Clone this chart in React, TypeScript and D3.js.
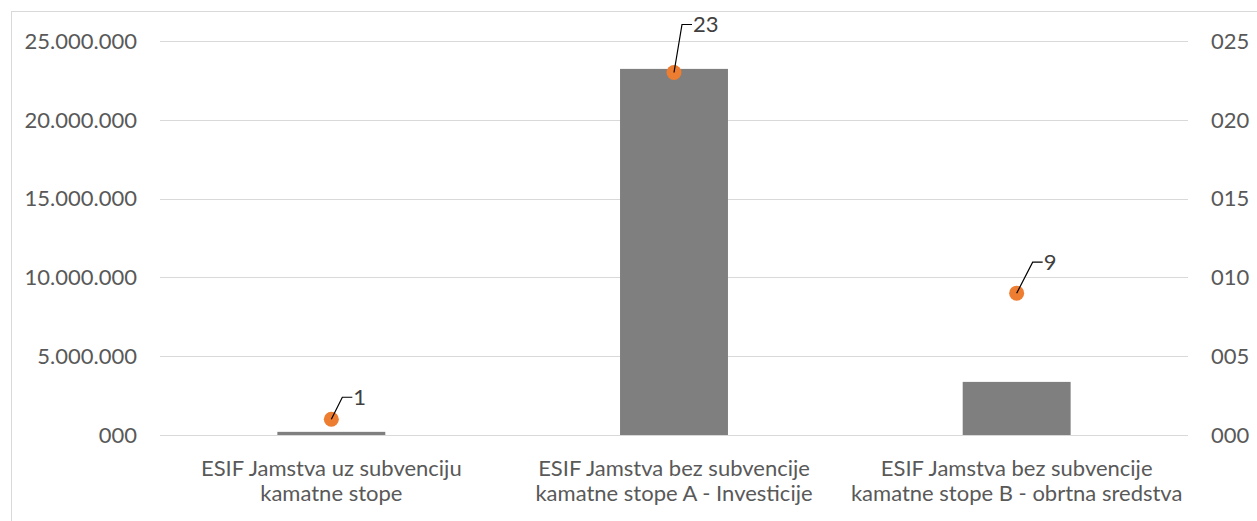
import React from "react";
import * as d3 from "d3";

const categories: string[][] = [
  ["ESIF Jamstva uz subvenciju", "kamatne stope"],
  ["ESIF Jamstva bez subvencije", "kamatne stope A - Investicije"],
  ["ESIF Jamstva bez subvencije", "kamatne stope B - obrtna sredstva"],
];
const amounts: number[] = [200000, 23230000, 3370000];
const counts: number[] = [1, 23, 9];
const leftTicks: number[] = [0, 5000000, 10000000, 15000000, 20000000, 25000000];
const rightTicks: number[] = [0, 5, 10, 15, 20, 25];

// layout of the manually placed data-label callouts (pixel offsets from the point)
const calloutOffsets: [number, number][] = [
  [11, -22],
  [8, -48],
  [16, -31],
];

const W = 1257;
const H = 521;
const FONT = "Lato, 'Open Sans', sans-serif";
const FS = 22;
const CAT_FS = 22;

const locale = d3.formatLocale({ decimal: ",", thousands: ".", grouping: [3], currency: ["", ""] });
const fmtLeft = (v: number) => locale.format(",")(v).padStart(3, "0");
const fmtRight = (v: number) => d3.format("03d")(v);

export default function App() {
  const keys = categories.map((c, i) => String(i));
  const x = d3.scaleBand<string>().domain(keys).range([160, 1188]).padding(0);
  const yL = d3.scaleLinear().domain([0, 25000000]).range([435, 41]);
  const yR = d3.scaleLinear().domain([0, 25]).range([435, 41]);
  const barW = x.bandwidth() * 0.315;

  return (
    <svg
      width={W}
      height={H}
      style={{ position: "absolute", left: 0, top: 0, display: "block", background: "#fff" }}
      fontFamily={FONT}
    >
      <rect x={11.5} y={11.5} width={1300} height={600} fill="#fff" stroke="#d9d9d9" strokeWidth={1} />
      {leftTicks.map((t) => (
        <line key={"g" + t} x1={160} x2={1188} y1={Math.round(yL(t)) + 0.5} y2={Math.round(yL(t)) + 0.5} stroke="#d9d9d9" strokeWidth={1} />
      ))}
      {leftTicks.map((t) => (
        <text key={"l" + t} x={137} y={yL(t)} dy="0.35em" textAnchor="end" fontSize={FS} fill="#595959">
          {fmtLeft(t)}
        </text>
      ))}
      {rightTicks.map((t) => (
        <text key={"r" + t} x={1211} y={yR(t)} dy="0.35em" textAnchor="start" fontSize={FS} fill="#595959">
          {fmtRight(t)}
        </text>
      ))}
      {amounts.map((v, i) => {
        const cx = (x(keys[i]) as number) + x.bandwidth() / 2;
        return <rect key={"b" + i} x={cx - barW / 2} y={yL(v)} width={barW} height={yL(0) - yL(v)} fill="#7f7f7f" />;
      })}
      {categories.map((lines, i) => {
        const cx = (x(keys[i]) as number) + x.bandwidth() / 2;
        return (
          <text key={"c" + i} x={cx} textAnchor="middle" fontSize={CAT_FS} fill="#595959">
            {lines.map((ln, j) => (
              <tspan key={j} x={cx} y={476 + j * 25}>
                {ln}
              </tspan>
            ))}
          </text>
        );
      })}
      {counts.map((v, i) => {
        const cx = (x(keys[i]) as number) + x.bandwidth() / 2;
        const cy = yR(v);
        const [dx, dy] = calloutOffsets[i];
        const ex = cx + dx;
        const ey = cy + dy;
        return (
          <g key={"p" + i}>
            <circle cx={cx} cy={cy} r={7.5} fill="#ed7d31" />
            <polyline points={`${cx},${cy} ${ex},${ey} ${ex + 10},${ey}`} fill="none" stroke="#000" strokeWidth={1.2} />
            <text x={ex + 11} y={ey} dy="0.35em" fontSize={FS} fill="#404040">
              {v}
            </text>
          </g>
        );
      })}
    </svg>
  );
}
